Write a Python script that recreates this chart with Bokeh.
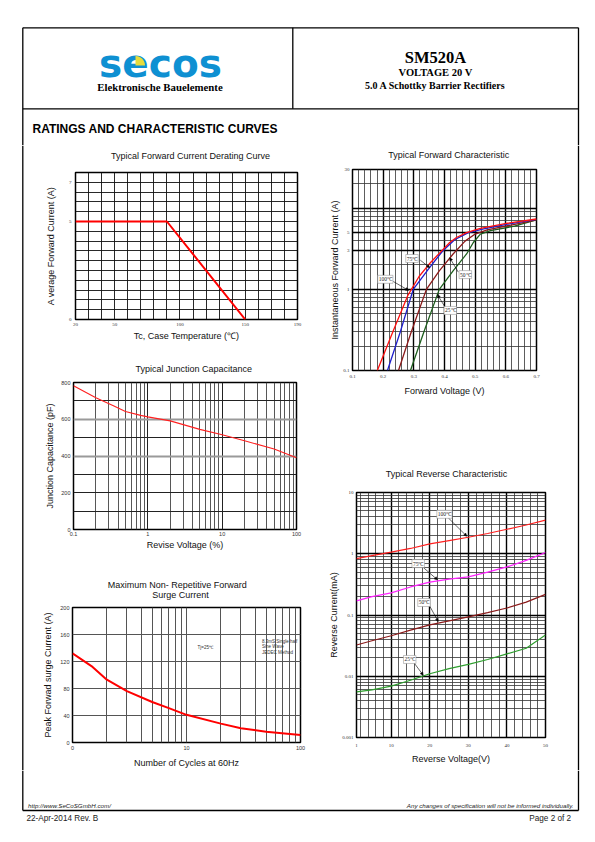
import numpy as np
from bokeh.plotting import figure
from bokeh.layouts import row, column
from bokeh.models import Range1d, FixedTicker, Label, Arrow, NormalHead, Grid
from bokeh.embed import file_html
from bokeh.resources import INLINE
from bokeh.core.properties import value

SANS = "Liberation Sans"
SERIF = "Liberation Serif"

# ---------------- data ----------------
# Typical Forward Current Derating Curve
derate_temp_c = [20, 90, 150]
derate_current_a = [5, 5, 0]
derate_xticks = [20, 50, 100, 150, 190]
derate_xlabels = ["20", "50", "100", "150", "190"]
derate_yticks = [0, 5, 7]
derate_ylabels = ["0", "5", "7"]

# Typical Forward Characteristic (V, A)
fwd_v_100c = [0.181, 0.23, 0.281, 0.317, 0.350, 0.383, 0.417, 0.439, 0.472, 0.517, 0.606, 0.700]
fwd_i_100c = [0.10, 0.29, 0.85, 1.44, 2.05, 2.78, 3.78, 4.36, 5.00, 5.65, 6.53, 7.36]
fwd_v_75c = [0.214, 0.256, 0.298, 0.350, 0.394, 0.433, 0.478, 0.528, 0.606, 0.700]
fwd_i_75c = [0.10, 0.30, 1.00, 1.83, 2.97, 4.09, 5.00, 5.55, 6.36, 7.30]
fwd_v_50c = [0.250, 0.289, 0.341, 0.383, 0.428, 0.467, 0.500, 0.539, 0.617, 0.700]
fwd_i_50c = [0.10, 0.28, 1.00, 1.69, 2.73, 3.93, 4.80, 5.42, 6.20, 7.18]
fwd_v_25c = [0.289, 0.333, 0.383, 0.428, 0.472, 0.494, 0.517, 0.550, 0.628, 0.700]
fwd_i_25c = [0.10, 0.30, 1.00, 1.69, 2.73, 3.78, 4.80, 5.30, 6.00, 7.20]
fwd_xticks = [0.1, 0.2, 0.3, 0.4, 0.5, 0.6, 0.7]
fwd_xlabels = ["0.1", "0.2", "0.3", "0.4", "0.5", "0.6", "0.7"]
fwd_yticks = [0.1, 1, 3, 5, 30]
fwd_ylabels = ["0.1", "1", "3", "5", "30"]
fwd_tag_text = ["75℃", "100℃", "50℃", "25℃"]
fwd_tag_x = [0.294, 0.207, 0.468, 0.419]
fwd_tag_y = [2.4, 1.33, 1.52, 0.55]
fwd_arrow_x0 = [0.321, 0.233, 0.445, 0.400]
fwd_arrow_y0 = [2.29, 1.25, 1.63, 0.62]
fwd_arrow_x1 = [0.352, 0.283, 0.417, 0.377]
fwd_arrow_y1 = [1.85, 0.97, 2.45, 0.86]

# Typical Junction Capacitance
cap_v_pct = [0.1, 0.2, 0.35, 0.5, 0.8, 1, 2, 5, 10, 20, 50, 100]
cap_pf = [782, 717, 672, 642, 621, 613, 591, 545, 516, 483, 438, 391]
cap_xticks = [0.1, 1, 10, 100]
cap_xlabels = ["0.1", "1", "10", "100"]
cap_yticks = [0, 200, 400, 600, 800]
cap_ylabels = ["0", "200", "400", "600", "800"]

# Typical Reverse Characteristic (V, mA)
rev_v = [1, 5, 10, 15, 20, 25, 30, 35, 40, 45, 50]
rev_i_100c = [0.83, 0.93, 1.06, 1.22, 1.45, 1.64, 1.86, 2.14, 2.51, 2.95, 3.55]
rev_i_75c = [0.17, 0.20, 0.23, 0.287, 0.344, 0.384, 0.42, 0.50, 0.61, 0.78, 1.05]
rev_i_50c = [0.0324, 0.038, 0.0458, 0.0566, 0.069, 0.080, 0.093, 0.109, 0.13, 0.162, 0.217]
rev_i_25c = [0.00556, 0.0060, 0.0069, 0.0086, 0.011, 0.0133, 0.0156, 0.0188, 0.0232, 0.0286, 0.047]
rev_xticks = [1, 10, 20, 30, 40, 50]
rev_xlabels = ["1", "10", "20", "30", "40", "50"]
rev_yticks = [0.001, 0.01, 0.1, 1, 10]
rev_ylabels = ["0.001", "0.01", "0.1", "1", "10"]
rev_tag_text = ["100℃", "75℃", "50℃", "25℃"]
rev_tag_x = [23.8, 17.0, 18.5, 14.8]
rev_tag_y = [4.4, 0.69, 0.16, 0.0188]
rev_arrow_x0 = [24.8, 18.4, 20.0, 15.9]
rev_arrow_y0 = [3.85, 0.59, 0.139, 0.0166]
rev_arrow_x1 = [29.6, 22.0, 22.2, 18.3]
rev_arrow_y1 = [1.93, 0.375, 0.078, 0.0104]

# Maximum Non-Repetitive Forward Surge Current
surge_cycles = [1, 1.5, 2, 3, 5, 7, 10, 20, 30, 50, 100]
surge_amps = [132, 112, 93, 76, 60, 51, 41, 28, 21, 16, 11]
surge_xticks = [1, 10, 100]
surge_xlabels = ["0", "10", "100"]
surge_yticks = [0, 40, 80, 120, 160, 200]
surge_ylabels = ["0", "40", "80", "120", "160", "200"]
surge_note_tj = "Tj=25℃"
surge_note_lines = ["8.3mS Single half", "Sine Wave", "JEDEC Method"]


# ---------------- helpers ----------------
def chart(w, h, left, right, top, bottom, xr, yr, xtype="linear", ytype="linear"):
    p = figure(width=w, height=h, x_range=xr, y_range=yr, x_axis_type=xtype,
               y_axis_type=ytype, output_backend="svg", toolbar_location=None, title=None,
               min_border_left=left, min_border_right=right,
               min_border_top=top, min_border_bottom=bottom)
    p.outline_line_color = "black"
    p.outline_line_width = 1.5
    p.background_fill_color = "white"
    p.border_fill_color = "white"
    return p


def style_axis(ax, ticks, labels, font, size, standoff, label, label_standoff):
    ax.ticker = FixedTicker(ticks=ticks)
    ax.major_label_overrides = {t: l for t, l in zip(ticks, labels)}
    ax.major_label_text_font = font
    ax.major_label_text_font_size = size
    ax.major_label_text_color = "#333"
    ax.major_label_standoff = standoff
    ax.major_tick_in = 0
    ax.major_tick_out = 0
    ax.minor_tick_in = 0
    ax.minor_tick_out = 0
    ax.axis_line_color = None
    ax.axis_label = label
    ax.axis_label_text_font = SANS
    ax.axis_label_text_font_size = "9px"
    ax.axis_label_text_font_style = "normal"
    ax.axis_label_text_color = "#111"
    ax.axis_label_standoff = label_standoff


def set_grid(g, major, minor, mcol, mw, ncol="#333", nw=0.8):
    g.ticker = FixedTicker(ticks=list(major), minor_ticks=list(minor))
    g.grid_line_color = mcol
    g.grid_line_width = mw
    g.grid_line_alpha = 1
    g.minor_grid_line_color = ncol
    g.minor_grid_line_width = nw


def log_minor(lo_exp, hi_exp):
    out = []
    for e in range(lo_exp, hi_exp):
        for k in range(2, 10):
            out.append(k * 10.0 ** e)
    return out


def tag(p, x, y, text):
    p.add_layout(Label(x=x, y=y, text=text, text_font=SERIF, text_font_size="5.5px",
                       text_align="center", text_baseline="middle", text_color="#222",
                       background_fill_color="white", border_line_color="#888",
                       border_line_width=0.5, padding=1))


def arrow(p, x0, y0, x1, y1):
    p.add_layout(Arrow(end=NormalHead(size=3, fill_color="black", line_color="black",
                                      line_width=0.5),
                       x_start=x0, y_start=y0, x_end=x1, y_end=y1,
                       line_width=0.6, line_color="black"))


def canvas(w, h, x0, y0):
    p = figure(width=w, height=h, x_range=Range1d(x0, x0 + w), y_range=Range1d(y0 + h, y0),
               output_backend="svg", toolbar_location=None, title=None,
               x_axis_location=None, y_axis_location=None, min_border=0,
               min_border_left=0, min_border_right=0, min_border_top=0, min_border_bottom=0)
    p.grid.visible = False
    p.outline_line_color = None
    p.background_fill_color = "white"
    p.border_fill_color = "white"
    return p


def text(p, x, y, s, font, size, style="normal", align="left", color="black"):
    p.add_layout(Label(x=x, y=y, text=s, text_font=font, text_font_size=size,
                       text_font_style=style, text_align=align, text_baseline="middle",
                       text_color=color))


def title_canvas(w, h, x0, y0, items):
    c = canvas(w, h, x0, y0)
    for (x, y, s) in items:
        text(c, x, y, s, SANS, "9px", "normal", "center", "#111")
    return c


FL, FR = 22.3, 578.0   # page frame left/right
LW = 1.3

# ---------------- header ----------------
hdr = canvas(594, 145, 0, 0)
hdr.segment(x0=[FL, FL, FR, 292.3, FL], y0=[27.3, 27.3, 27.3, 27.3, 108.3],
            x1=[FR, FL, FR, 292.3, FR], y1=[27.3, 145, 145, 108.3, 108.3],
            line_color="black", line_width=LW)
hdr.text(x=[160], y=[63], text=["secos"], text_font=value("DejaVu Sans"),
         text_font_style="bold", text_font_size="39px", text_color="#0E90D2",
         text_align="center", text_baseline="alphabetic")
ang = np.linspace(0, np.pi / 2, 20)
hdr.patch(x=np.concatenate([[135.0], 135.0 + 9.5 * np.cos(ang)]),
          y=np.concatenate([[65.0], 65.0 - 9.5 * np.sin(ang)]),
          fill_color="#E6DC3C", line_color=None)
text(hdr, 159.5, 86, "Elektronische Bauelemente", SERIF, "10.8px", "bold", "center")
text(hdr, 435, 57, "SM520A", SERIF, "16.5px", "bold", "center")
text(hdr, 435, 71.5, "VOLTAGE 20 V", SERIF, "10.5px", "bold", "center")
text(hdr, 435, 84.5, "5.0 A Schottky Barrier Rectifiers", SERIF, "10px", "bold", "center")
text(hdr, 32, 128, "RATINGS AND CHARACTERISTIC CURVES", SANS, "12px", "bold", "left")

# ---------------- side strips ----------------
strip_l = canvas(30, 625, 0, 145)
strip_l.segment(x0=[FL], y0=[145], x1=[FL], y1=[770], line_color="black", line_width=LW)
strip_r = canvas(24, 625, 570, 145)
strip_r.segment(x0=[FR], y0=[145], x1=[FR], y1=[770], line_color="black", line_width=LW)

# ---------------- chart 1: derating ----------------
t1 = title_canvas(280, 20, 30, 145, [(190, 155, "Typical Forward Current Derating Curve")])
p1 = chart(280, 185, 45, 13, 7, 31, Range1d(20, 190), Range1d(0, 7.5))
set_grid(p1.xgrid[0], np.arange(30, 190, 10), [], "#111", 0.9)
set_grid(p1.ygrid[0], np.arange(0.5, 7.5, 0.5), [], "#111", 0.9)
p1.line(derate_temp_c, derate_current_a, line_color="#FF0000", line_width=2)
style_axis(p1.xaxis[0], derate_xticks, derate_xlabels, SERIF, "5px", 3,
           "Tc, Case Temperature (℃)", 2)
style_axis(p1.yaxis[0], derate_yticks, derate_ylabels, SERIF, "5px", 4,
           "A verage Forward Current (A)", 10)

# ---------------- chart 2: forward ----------------
t2 = title_canvas(260, 17, 310, 145, [(448.3, 154, "Typical Forward Characteristic")])
p2 = chart(260, 298, 42, 34, 7, 90, Range1d(0.1, 0.7), Range1d(0.1, 30), ytype="log")
set_grid(p2.xgrid[0], [0.2, 0.3, 0.4, 0.5, 0.6],
         [round(0.1 + 0.02 * k, 2) for k in range(1, 30) if k % 5 != 0], "black", 1.4)
set_grid(p2.ygrid[0], [1, 3, 5, 10], [v for v in log_minor(-1, 2) if v not in (3.0, 5.0)],
         "black", 1.3)
for vx, iy, col in [(fwd_v_25c, fwd_i_25c, "#1E5E1E"), (fwd_v_50c, fwd_i_50c, "#8B1A1A"),
                    (fwd_v_75c, fwd_i_75c, "#1F1FCC"), (fwd_v_100c, fwd_i_100c, "#FF1010")]:
    p2.line(vx, iy, line_color=col, line_width=1.3)
for i in range(len(fwd_tag_text)):
    arrow(p2, fwd_arrow_x0[i], fwd_arrow_y0[i], fwd_arrow_x1[i], fwd_arrow_y1[i])
    tag(p2, fwd_tag_x[i], fwd_tag_y[i], fwd_tag_text[i])
style_axis(p2.xaxis[0], fwd_xticks, fwd_xlabels, SERIF, "5px", 4, "Forward Voltage (V)", 5)
style_axis(p2.yaxis[0], fwd_yticks, fwd_ylabels, SERIF, "5px", 3,
           "Instantaneous Forward Current (A)", 0)

# ---------------- chart 3: capacitance ----------------
t3 = title_canvas(280, 25, 30, 350, [(193.3, 368.3, "Typical Junction Capacitance")])
p3 = chart(280, 190, 43, 14, 7, 36, Range1d(0.1, 100), Range1d(0, 800), xtype="log")
set_grid(p3.xgrid[0], [1, 10], log_minor(-1, 2), "#222", 1.0, "#444", 0.9)
set_grid(p3.ygrid[0], [100, 200, 300, 500, 700], [], "#222", 1.0)
p3.add_layout(Grid(dimension=1, ticker=FixedTicker(ticks=[400, 600]),
                   grid_line_color="#9a9a9a", grid_line_width=2))
p3.line(cap_v_pct, cap_pf, line_color="#FF2020", line_width=1.1)
style_axis(p3.xaxis[0], cap_xticks, cap_xlabels, SANS, "5.5px", 2, "Revise Voltage (%)", 1)
style_axis(p3.yaxis[0], cap_yticks, cap_ylabels, SANS, "5.5px", 3,
           "Junction Capacitance (pF)", 3)

# ---------------- chart 4: reverse ----------------
t4 = title_canvas(260, 25, 310, 460, [(446, 473.3, "Typical Reverse Characteristic")])
p4 = chart(260, 285, 46, 25, 7, 33, Range1d(1, 50), Range1d(0.001, 10), ytype="log")
set_grid(p4.xgrid[0], [10, 20, 30, 40], [v for v in range(2, 50, 2) if v % 10 != 0],
         "black", 1.4)
set_grid(p4.ygrid[0], [0.01, 0.1, 1], log_minor(-3, 1), "black", 1.4)
for iy, col in [(rev_i_25c, "#2E9E2E"), (rev_i_50c, "#8B1A1A"),
                (rev_i_75c, "#FF22FF"), (rev_i_100c, "#FF2020")]:
    p4.line(rev_v, iy, line_color=col, line_width=1.2)
for i in range(len(rev_tag_text)):
    arrow(p4, rev_arrow_x0[i], rev_arrow_y0[i], rev_arrow_x1[i], rev_arrow_y1[i])
    tag(p4, rev_tag_x[i], rev_tag_y[i], rev_tag_text[i])
style_axis(p4.xaxis[0], rev_xticks, rev_xlabels, SERIF, "5px", 6, "Reverse Voltage(V)", 4)
style_axis(p4.yaxis[0], rev_yticks, rev_ylabels, SERIF, "5px", 3, "Reverse Current(mA)", 0)

# ---------------- chart 5: surge ----------------
t5 = title_canvas(280, 35, 30, 565, [(176.7, 584, "Maximum Non- Repetitive Forward"),
                                     (180, 594.3, "Surge Current")])
p5 = chart(280, 170, 42, 10, 7, 27, Range1d(1, 100), Range1d(0, 200), xtype="log")
set_grid(p5.xgrid[0], [10], log_minor(0, 2), "#555", 1.0, "#555", 1.0)
set_grid(p5.ygrid[0], [40, 80, 120, 160], [], "#555", 1.0)
p5.line(surge_cycles, surge_amps, line_color="#FF0000", line_width=2)
p5.add_layout(Label(x=12.5, y=141, text=surge_note_tj, text_font=SANS, text_font_size="4.5px",
                    text_align="left", text_baseline="middle", text_color="#333"))
for k, s in enumerate(surge_note_lines):
    p5.add_layout(Label(x=46, y=149.4 - 7.8 * k, text=s, text_font=SANS,
                        text_font_size="4.5px", text_align="left", text_baseline="middle",
                        text_color="#333"))
style_axis(p5.xaxis[0], surge_xticks, surge_xlabels, SANS, "5.5px", 3,
           "Number of Cycles at 60Hz", 5)
style_axis(p5.yaxis[0], surge_yticks, surge_ylabels, SANS, "5.5px", 3,
           "Peak Forwad surge Current (A)", 4)

# ---------------- footer ----------------
ftr = canvas(594, 62, 0, 770)
ftr.segment(x0=[FL, FR, FL], y0=[770, 770, 810], x1=[FL, FR, FR], y1=[810, 810, 810],
            line_color="black", line_width=LW)
text(ftr, 27.5, 804.5, "http://www.SeCoSGmbH.com/", SANS, "6.2px", "italic", "left", "#222")
text(ftr, 573, 804.5, "Any changes of specification will not be informed individually.",
     SANS, "6.2px", "italic", "right", "#222")
text(ftr, 26, 818, "22-Apr-2014 Rev. B", SANS, "8.2px", "normal", "left", "#222")
text(ftr, 577.5, 818, "Page  2  of  2", SANS, "8.2px", "normal", "right", "#222")

left_col = column(t1, row(p1), t3, row(p3), t5, row(p5))
right_col = column(t2, row(p2), t4, row(p4))
layout = column(hdr, row(strip_l, left_col, right_col, strip_r), ftr)

open("out.html", "w").write(file_html(layout, INLINE))
